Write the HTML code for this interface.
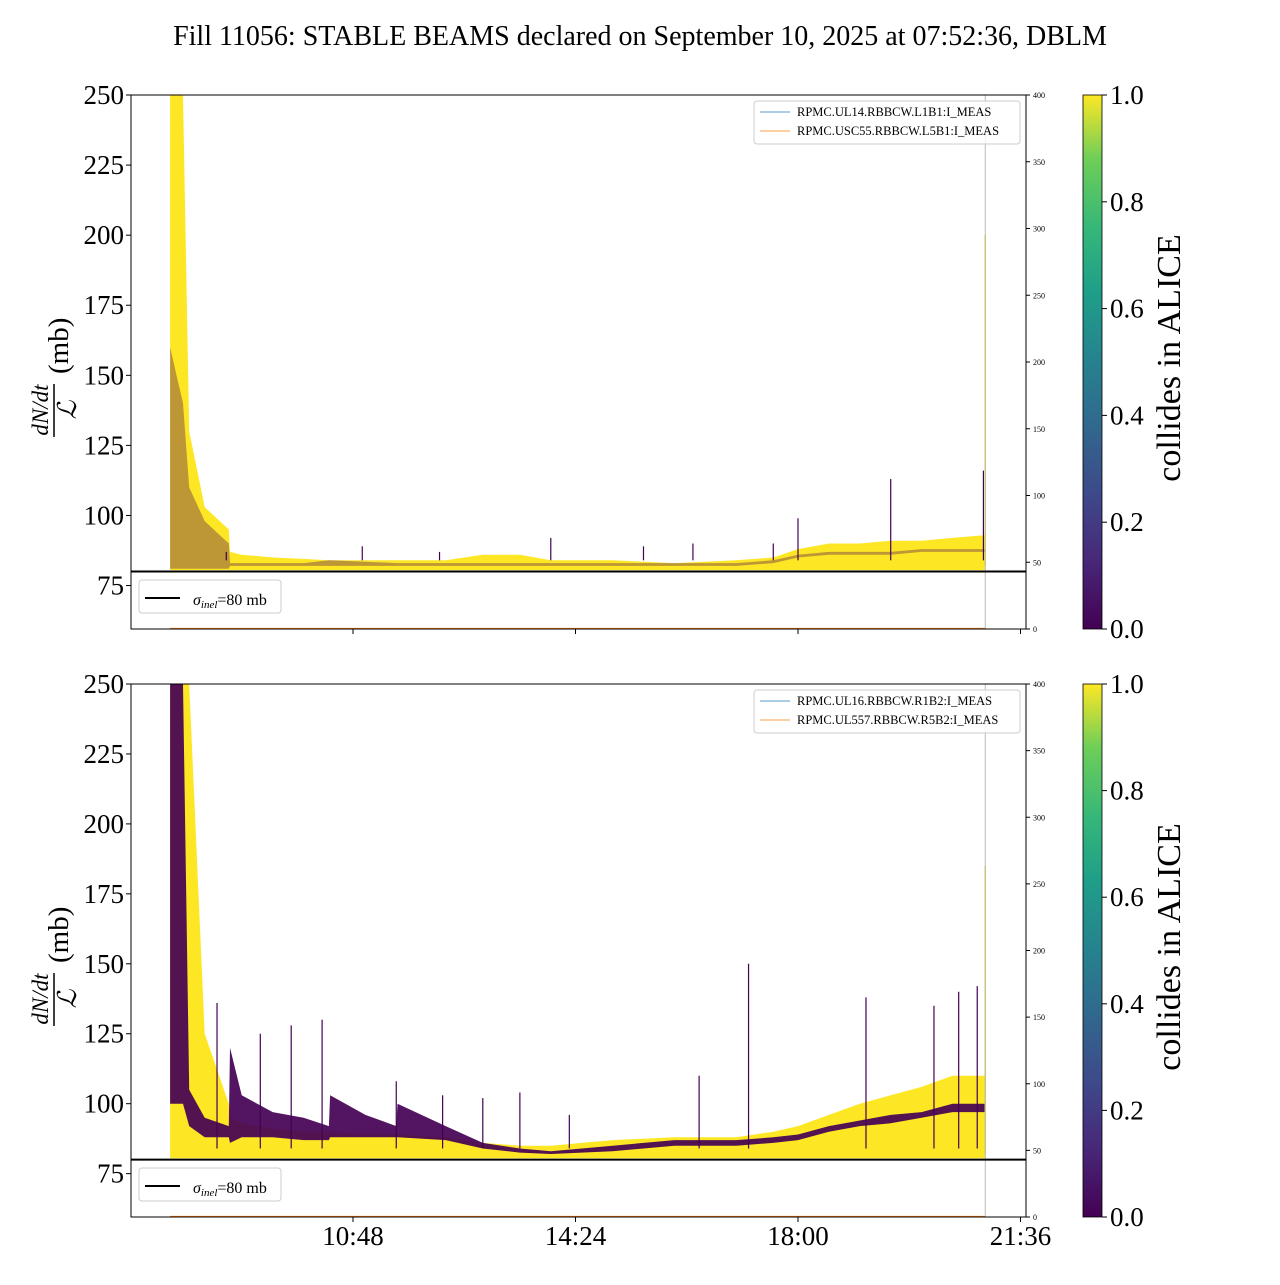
<!DOCTYPE html>
<html><head><meta charset="utf-8"><style>
body{margin:0;background:#fff;font-family:"Liberation Serif",serif;}
svg text{font-family:"Liberation Serif",serif;}
</style></head><body>
<svg id="c" width="1280" height="1280" viewBox="0 0 1280 1280" xmlns="http://www.w3.org/2000/svg">
<defs>
<linearGradient id="vir" x1="0" y1="1" x2="0" y2="0">
<stop offset="0" stop-color="#440154"/><stop offset="0.13" stop-color="#482878"/><stop offset="0.25" stop-color="#3e4989"/><stop offset="0.38" stop-color="#31688e"/><stop offset="0.5" stop-color="#26828e"/><stop offset="0.63" stop-color="#1f9e89"/><stop offset="0.75" stop-color="#35b779"/><stop offset="0.88" stop-color="#6ece58"/><stop offset="1" stop-color="#fde725"/>
</linearGradient>
<clipPath id="cp0"><rect x="131" y="95" width="895" height="534"/></clipPath>
<clipPath id="cp1"><rect x="131" y="684" width="895" height="533"/></clipPath>
</defs>
<text x="640" y="45" font-size="28" text-anchor="middle">Fill 11056: STABLE BEAMS declared on September 10, 2025 at 07:52:36, DBLM</text>
</svg>
<script>
// ---- data (hours of day, mb) ----
const xTickLabels=["10:48","14:24","18:00","21:36"];
const xTickHours=[10.8,14.4,18.0,21.6];
const yTicks=[75,100,125,150,175,200,225,250];
const rTicks=[0,50,100,150,200,250,300,350,400];
const cbTicks=["0.0","0.2","0.4","0.6","0.8","1.0"];
const sigmaInel=80;
const hours=[7.84,8.05,8.15,8.4,8.79,8.81,9.0,9.5,10.0,10.41,10.43,11.0,11.5,11.52,12.3,12.9,13.5,14.0,14.5,15.0,16.0,17.0,17.6,18.0,18.5,19.0,19.5,20.0,20.5,21.03];
const topYellow=[250,250,130,103,95,87,86,85,84.5,84,84,84,84,84,84,86,86,84,84,84,83,84,85,88,90,90,91,91,92,93];
const topPurpleHi=[160,140,110,98,90,83,83,83,83,84,84,83.5,83,83,83,83,83,83,83,83,83,83,84,86,87,87,87,88,88,88];
const topPurpleLo=[81,81,81,81,81,82,82,82,82,82,82,82,82,82,82,82,82,82,82,82,82,82,83,85,86,86,86,87,87,87];
const botYellow=[250,250,250,125,100,95,93,91,90,90,90,89,89,89,88,86,85,85,86,87,88,88,90,92,96,100,103,106,110,110];
const botPurpleHi=[250,250,105,95,92,120,103,97,95,92,103,96,92,100,92,86,84,83,84,85,87,87,88,89,92,94,96,97,100,100];
const botPurpleLo=[100,100,92,88,88,86,88,88,87,87,88,88,88,88,87,84,82.5,82,82.5,83,85,85,86,87,90,92,93,95,97,97];
const topSpikes=[[8.75,87],[10.95,89],[12.2,87],[14.0,92],[15.5,89],[16.3,90],[17.6,90],[18.0,99],[19.5,113],[21.0,116]];
const botSpikes=[[8.6,136],[9.3,125],[9.8,128],[10.3,130],[11.5,108],[12.25,103],[12.9,102],[13.5,104],[14.3,96],[16.4,110],[17.2,150],[19.1,138],[20.2,135],[20.6,140],[20.9,142]];
const endSpikeTop=200, endSpikeBot=185;
const panels=[{top:95,bot:629,yellow:topYellow,phi:topPurpleHi,plo:topPurpleLo,pop:0.35,spikes:topSpikes,end:endSpikeTop,legend:["RPMC.UL14.RBBCW.L1B1:I_MEAS","RPMC.USC55.RBBCW.L5B1:I_MEAS"]},
{top:684,bot:1217,yellow:botYellow,phi:botPurpleHi,plo:botPurpleLo,pop:0.92,spikes:botSpikes,end:endSpikeBot,legend:["RPMC.UL16.RBBCW.R1B2:I_MEAS","RPMC.UL557.RBBCW.R5B2:I_MEAS"]}];
// ---- drawing ----
const NS="http://www.w3.org/2000/svg", svg=document.getElementById('c');
const X0=131,X1=1026;
function xs(h){return 353+(h-10.8)*(222.5/3.6);}
function mk(tag,attrs,parent){const e=document.createElementNS(NS,tag);for(const k in attrs)e.setAttribute(k,attrs[k]);(parent||svg).appendChild(e);return e;}
panels.forEach((p,pi)=>{
 const H=p.bot-p.top;
 const ys=v=>p.top+(250-v)*(H/190.5);
 const rs=v=>p.bot-v*(H/400);
 const g=mk('g',{'clip-path':`url(#cp${pi})`});
 
 
 function band(lo,hi,color,op,name){
  let d='';
  hours.forEach((h,i)=>{d+=(i?' L':'M')+xs(h).toFixed(1)+','+ys(hi[i]).toFixed(1);});
  for(let i=hours.length-1;i>=0;i--){d+=' L'+xs(hours[i]).toFixed(1)+','+ys(lo[i]).toFixed(1);}
  d+=' Z';
  const e=mk('path',{d:d,fill:color,'fill-opacity':op},g);
  
  
 }
 band(hours.map(()=>80.5),p.yellow,'#fde725',1,'yellow-band');
 band(p.plo,p.phi,'#440154',p.pop,'purple-band');
 p.spikes.forEach(s=>{const e=mk('line',{x1:xs(s[0]),x2:xs(s[0]),y1:ys(s[1]),y2:ys(84),stroke:'#440154','stroke-width':1.2},g);
  
  });
 const es=mk('line',{x1:xs(21.03),x2:xs(21.03),y1:ys(p.end),y2:ys(82),stroke:'#e8d21d','stroke-width':1.5},g);
 
 
 const vl=mk('line',{x1:xs(21.03),x2:xs(21.03),y1:p.top,y2:p.bot,stroke:'#bbb','stroke-width':1},g);
 
 
 const bl=mk('line',{x1:xs(7.84),x2:xs(21.03),y1:p.bot-0.5,y2:p.bot-0.5,stroke:'#ff7f0e','stroke-width':1.2},g);
 
 
 const sl=mk('line',{x1:X0,x2:X1,y1:ys(sigmaInel),y2:ys(sigmaInel),stroke:'#000','stroke-width':2});
 
 
 const fr=mk('rect',{x:X0,y:p.top,width:X1-X0,height:H,fill:'none',stroke:'#000','stroke-width':1});
 
 
 yTicks.forEach(v=>{const y=ys(v);mk('line',{x1:X0-5,x2:X0,y1:y,y2:y,stroke:'#000'});
  const t=mk('text',{x:X0-7,y:y+9,'font-size':27,'text-anchor':'end'});t.textContent=v;
  
  });
 rTicks.forEach(v=>{const y=rs(v);mk('line',{x1:X1,x2:X1+4,y1:y,y2:y,stroke:'#000'});
  const t=mk('text',{x:X1+7,y:y+3,'font-size':8});t.textContent=v;
  
  });
 xTickHours.forEach((h,i)=>{mk('line',{x1:xs(h),x2:xs(h),y1:p.bot,y2:p.bot+5,stroke:'#000'});
  if(pi===1){const t=mk('text',{x:xs(h),y:p.bot+28,'font-size':27,'text-anchor':'middle'});t.textContent=xTickLabels[i];
  
  }});
 const yl=mk('g',{transform:`translate(60,${p.top+267}) rotate(-90)`});
 
 
 const t1=mk('text',{x:-48,y:-12,'font-size':23,'font-style':'italic','text-anchor':'middle'},yl);t1.textContent='dN/dt';
 mk('line',{x1:-75,x2:-22,y1:-6,y2:-6,stroke:'#000','stroke-width':1.5},yl);
 const t2=mk('text',{x:-48,y:16,'font-size':26,'font-style':'italic','text-anchor':'middle'},yl);t2.textContent='ℒ';
 const t3=mk('text',{x:-12,y:8,'font-size':29},yl);t3.textContent='(mb)';
 const lg=mk('g',{});
 
 
 mk('rect',{x:754,y:p.top+6,width:266,height:43,rx:3,fill:'#fff','fill-opacity':0.8,stroke:'#ccc'},lg);
 mk('line',{x1:760,x2:790,y1:p.top+17,y2:p.top+17,stroke:'#1f77b4','stroke-width':0.8},lg);
 mk('line',{x1:760,x2:790,y1:p.top+36,y2:p.top+36,stroke:'#ff7f0e','stroke-width':0.8},lg);
 p.legend.forEach((s,i)=>{const t=mk('text',{x:797,y:p.top+21+i*19,'font-size':12.5},lg);t.textContent=s;});
 const sg=mk('g',{});
 
 
 mk('rect',{x:139,y:p.top+(pi?484:485),width:142,height:33,rx:3,fill:'#fff',stroke:'#ccc'},sg);
 mk('line',{x1:145,x2:180,y1:p.top+(pi?508:509)-6,y2:p.top+(pi?508:509)-6,stroke:'#000','stroke-width':2},sg);
 const st=mk('text',{x:193,y:p.top+(pi?509:510),'font-size':16},sg);
 st.innerHTML='<tspan font-style="italic">σ</tspan><tspan font-style="italic" font-size="11" dy="3">inel</tspan><tspan dy="-3">=80 mb</tspan>';
 const cb=mk('rect',{x:1083,y:p.top,width:19,height:H,fill:'url(#vir)',stroke:'#000','stroke-width':0.8});
 
 
 cbTicks.forEach((l,i)=>{const y=p.bot-i*H/5;mk('line',{x1:1102,x2:1107,y1:y,y2:y,stroke:'#000'});
  const t=mk('text',{x:1110,y:y+9,'font-size':27});t.textContent=l;
  
  });
 const ct=mk('text',{transform:`translate(1180,${p.top+263}) rotate(-90)`,'font-size':34,'text-anchor':'middle'});
 ct.textContent='collides in ALICE';
 
 
});
</script>
</body></html>
